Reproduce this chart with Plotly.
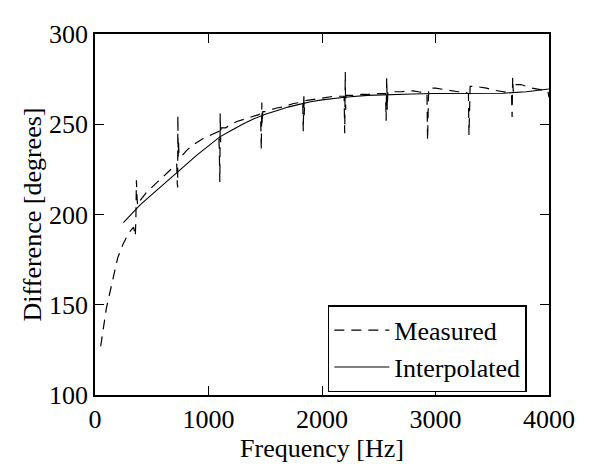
import plotly.graph_objects as go

# Measured phase difference (dashed), including spikes at harmonics
meas_freq = [50, 75, 100, 150, 200, 250, 300, 340, 355, 360, 365, 370, 375, 400, 450, 500, 550, 600, 650, 700,
             720, 725, 728, 730, 733, 736, 740, 760, 800, 850, 900, 950, 1000, 1050, 1090, 1095, 1100, 1103, 1106, 1110,
             1150, 1200, 1250, 1300, 1350, 1400, 1450, 1460, 1465, 1470, 1473, 1478, 1500, 1550, 1600, 1650, 1700, 1750,
             1800, 1830, 1835, 1840, 1843, 1848, 1900, 1950, 2000, 2050, 2100, 2150, 2195, 2200, 2205, 2208, 2212, 2250,
             2300, 2350, 2400, 2450, 2500, 2560, 2565, 2570, 2575, 2580, 2650, 2700, 2750, 2800, 2850, 2900, 2925, 2930,
             2935, 2940, 3000, 3050, 3100, 3150, 3200, 3250, 3290, 3295, 3300, 3305, 3350, 3400, 3450, 3500, 3550, 3600,
             3650, 3670, 3675, 3680, 3685, 3690, 3750, 3800, 3850, 3900, 3950, 3990, 4000]
meas_deg = [127, 138, 148, 162, 176, 184, 190, 193, 188, 197, 219, 210, 205, 208, 212, 215, 218, 221, 224, 227,
            228, 217, 215, 255, 232, 240, 233, 232, 235, 238, 240, 242, 243.5, 245, 246, 236, 218, 256, 240, 248,
            248, 250, 251.5, 252.5, 253.5, 254.5, 255.5, 252, 236, 262, 250, 257, 257, 258, 259, 259.5, 260.5, 261.5,
            262, 262.5, 246, 267, 255, 263, 263.5, 264, 264.5, 265, 265.5, 265.5, 265.5, 245, 279, 258, 266, 266,
            266, 266.5, 266.5, 267, 267, 267, 252, 276, 258, 268, 268, 268, 268.5, 268.5, 268, 267.5, 267, 241,
            264, 270, 270, 269.5, 269, 268.5, 268, 268, 267, 244, 268, 271, 271, 270.5, 270, 269, 268.5, 268,
            267.5, 266, 254, 276, 268, 272, 272, 271, 270, 269.5, 269, 268.5, 265]

# Interpolated curve (solid)
interp_freq = [250, 300, 400, 500, 600, 700, 800, 900, 1000, 1100, 1200, 1300, 1400, 1500, 1600, 1700, 1800,
               1900, 2000, 2200, 2400, 2600, 2800, 3000, 3200, 3400, 3600, 3800, 4000]
interp_deg = [195.5, 199, 205.5, 211, 216.5, 222, 228, 233, 238, 243, 246.5, 250, 253, 255.5, 257.5, 259.5, 261,
              262.5, 263.5, 265, 266, 266.5, 266.8, 267, 267, 267, 267.2, 268, 269.5]

x_ticks = [0, 1000, 2000, 3000, 4000]
y_ticks = [100, 150, 200, 250, 300]

font_family = "Liberation Serif"
fs = 26

fig = go.Figure()
fig.add_trace(go.Scatter(x=meas_freq, y=meas_deg, mode="lines", name="Measured",
                         line=dict(color="black", width=1.2, dash="10px,7px")))
fig.add_trace(go.Scatter(x=interp_freq, y=interp_deg, mode="lines", name="Interpolated",
                         line=dict(color="black", width=1.1)))

axis_common = dict(showline=True, linecolor="black", linewidth=1.5, mirror="ticks",
                   ticks="inside", ticklen=9, tickwidth=1, tickcolor="black",
                   showgrid=False, zeroline=False, ticklabeloverflow="allow",
                   tickfont=dict(family=font_family, size=fs, color="black"),
                   title_font=dict(family=font_family, size=fs, color="black"))

fig.update_xaxes(range=[0, 4000], tickvals=x_ticks, title_text="Frequency [Hz]",
                 title_standoff=2, **axis_common)
fig.update_yaxes(range=[100, 300], tickvals=y_ticks, title_text="Difference [degrees]",
                 title_standoff=0, **axis_common)

fig.update_layout(
    width=585, height=458,
    margin=dict(l=87, r=44, t=13, b=69),
    plot_bgcolor="white", paper_bgcolor="white",
    font=dict(family=font_family, size=fs, color="black"),
    legend=dict(x=0.732, y=0.128, xanchor="center", yanchor="middle",
                bordercolor="black", borderwidth=1.5, bgcolor="white",
                font=dict(family=font_family, size=fs, color="black"),
                itemwidth=55, tracegroupgap=0),
    showlegend=True,
)

fig.write_html("out.html")
